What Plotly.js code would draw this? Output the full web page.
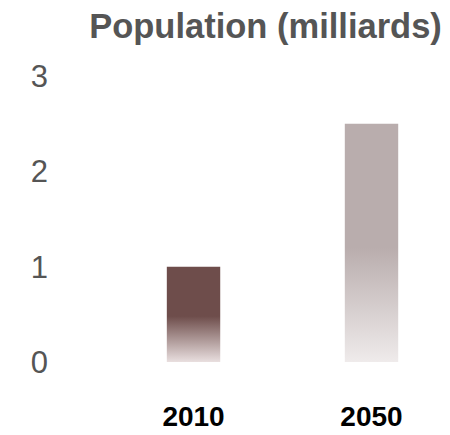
<!DOCTYPE html>
<html>
<head>
<meta charset="utf-8">
<script src="https://cdn.plot.ly/plotly-3.0.1.min.js"></script>
<style>html,body{margin:0;padding:0;background:#fff;}#chart{width:450px;height:435px;}</style>
</head>
<body>
<div id="chart"></div>
<script>
const years = ["2010", "2050"];
const population = [1.0, 2.5];
const topColors = ["#6e4d4b", "#b9adad"];
const bottomColors = ["#e9dfdf", "#efebeb"];
const yTicks = [0, 1, 2, 3];

const trace = {
  type: "bar",
  x: years,
  y: population,
  width: 0.3,
  marker: { color: topColors, line: { width: 0 } },
  hoverinfo: "none"
};

const layout = {
  width: 450,
  height: 435,
  margin: { l: 70, r: 0, t: 76, b: 73 },
  paper_bgcolor: "#ffffff",
  plot_bgcolor: "#ffffff",
  showlegend: false,
  font: { family: "Liberation Sans, Arial, sans-serif" },
  title: {
    text: "<b>Population (milliards)</b>",
    font: { size: 34.5, color: "#555555", family: "Liberation Sans, Arial, sans-serif" },
    xref: "container", x: 0.59, xanchor: "center",
    yref: "container", y: 0.94, yanchor: "middle"
  },
  xaxis: {
    type: "category",
    range: [-0.694, 1.441],
    showgrid: false, zeroline: false, showline: false, ticks: "",
    tickfont: { size: 28, color: "#000000", family: "Liberation Sans, Arial, sans-serif", weight: "bold" },
    ticklabelstandoff: 35
  },
  yaxis: {
    range: [0, 3],
    tickvals: yTicks,
    ticktext: yTicks.map(String),
    showgrid: false, zeroline: false, showline: false, ticks: "",
    tickfont: { size: 31, color: "#555555", family: "Liberation Sans, Arial, sans-serif" },
    ticklabelstandoff: 21
  }
};

function applyGradients(gd) {
  const svg = gd.querySelector("svg.main-svg");
  let defs = svg.querySelector("defs");
  const ns = "http://www.w3.org/2000/svg";
  years.forEach((y, i) => {
    const id = "barGrad" + i;
    let old = svg.querySelector("#" + id);
    if (old) old.remove();
    const g = document.createElementNS(ns, "linearGradient");
    g.setAttribute("id", id);
    g.setAttribute("x1", "0"); g.setAttribute("y1", "0");
    g.setAttribute("x2", "0"); g.setAttribute("y2", "1");
    [[0, topColors[i]], [0.52, topColors[i]], [1, bottomColors[i]]].forEach(([o, c]) => {
      const s = document.createElementNS(ns, "stop");
      s.setAttribute("offset", o);
      s.setAttribute("stop-color", c);
      g.appendChild(s);
    });
    defs.appendChild(g);
  });
  const paths = gd.querySelectorAll(".barlayer .point path");
  paths.forEach((p, i) => { p.style.fill = "url(#barGrad" + i + ")"; });
}

Plotly.newPlot("chart", [trace], layout, { staticPlot: true, displayModeBar: false }).then(applyGradients);
</script>
</body>
</html>
